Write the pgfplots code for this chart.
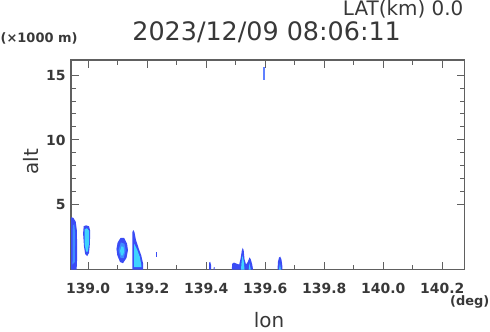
\documentclass[border=0pt]{standalone}
\usepackage{pgfplots}
\pgfplotsset{compat=1.18}
\usepackage{fontspec}
\setmainfont{DejaVu Sans}
\definecolor{txt}{HTML}{383838}
\definecolor{axc}{HTML}{606060}
\definecolor{rblue}{HTML}{3A4CF5}
\definecolor{rmid}{HTML}{3F8CFF}
\definecolor{rcyan}{HTML}{3FD4FF}
\definecolor{rlight}{HTML}{6080FF}
\begin{document}
\begin{tikzpicture}[x=1bp,y=1bp]
\useasboundingbox (0,0) rectangle (490,331);
\begin{axis}[
  at={(71bp,61.3bp)}, anchor=south west,
  scale only axis, width=393.7bp, height=209.7bp,
  xmin=138.942, xmax=140.276, ymin=0, ymax=16.16,
  xtick={139.0,139.2,139.4,139.6,139.8,140.0,140.2},
  minor x tick num=1,
  ytick={5,10,15}, minor y tick num=4,
  tick align=inside,
  major tick length=8bp, minor tick length=4.5bp,
  axis line style={draw=axc, line width=1.4bp},
  every tick/.style={draw=axc, line width=1bp},
  /pgf/number format/assume math mode=true,
  tick label style={font=\fontsize{14}{14}\bfseries\selectfont, text=txt},
  xticklabel style={/pgf/number format/.cd, fixed, fixed zerofill, precision=1, /tikz/.cd, yshift=-10.3bp},
  yticklabel style={/pgf/number format/.cd, fixed, precision=0, /tikz/.cd, xshift=-2bp},
  xlabel={lon},
  xlabel style={at={(axis description cs:0.503,-0.276)}, anchor=base, inner sep=0pt, font=\fontsize{20}{20}\selectfont, text=txt},
  ylabel={alt},
  ylabel style={at={(axis description cs:-0.1016,0.514)}, anchor=center, font=\fontsize{20}{20}\selectfont, text=txt},
  title={2023/12/09 08:06:11},
  title style={at={(axis description cs:0.497,1.0634)}, anchor=base, font=\fontsize{25.5}{25.5}\selectfont, text=txt},
]
% blob 1 (left edge)
\addplot[fill=rblue, draw=none] coordinates {(138.940,0) (138.940,4.05) (138.950,4.0) (138.958,3.7) (138.962,3.0) (138.963,1.0) (138.961,0)} --cycle;
\addplot[fill=rmid, draw=none] coordinates {(138.947,0.4) (138.948,3.4) (138.953,3.5) (138.956,2.8) (138.955,0.6)} --cycle;
% blob 2
\addplot[fill=rblue, draw=none] coordinates {(138.985,3.35) (138.993,3.42) (139.003,3.35) (139.007,3.0) (139.006,2.0) (139.003,1.3) (138.997,1.05) (138.990,1.2) (138.986,1.8) (138.983,2.8)} --cycle;
\addplot[fill=rcyan, draw=none] coordinates {(138.988,3.1) (138.996,3.2) (139.003,3.0) (139.003,2.0) (138.999,1.4) (138.993,1.4) (138.988,2.0)} --cycle;
% blob 3
\addplot[fill=rblue, draw=none] coordinates {(139.110,2.45) (139.122,2.45) (139.132,2.0) (139.135,1.5) (139.130,0.9) (139.118,0.5) (139.108,0.6) (139.099,1.1) (139.096,1.6) (139.100,2.1)} --cycle;
\addplot[fill=rmid, draw=none] coordinates {(139.111,2.1) (139.123,2.0) (139.127,1.5) (139.121,0.9) (139.110,0.9) (139.103,1.5)} --cycle;
\addplot[fill=rcyan, draw=none] coordinates {(139.113,1.8) (139.120,1.75) (139.122,1.4) (139.118,1.1) (139.112,1.1) (139.108,1.45)} --cycle;
% blob 4
\addplot[fill=rblue, draw=none] coordinates {(139.150,0) (139.150,2.9) (139.153,3.05) (139.157,2.9) (139.162,2.3) (139.172,1.6) (139.180,1.1) (139.186,0.5) (139.186,0)} --cycle;
\addplot[fill=rcyan, draw=none] coordinates {(139.156,0.2) (139.156,2.0) (139.165,1.6) (139.175,1.0) (139.180,0.4) (139.181,0.2)} --cycle;
% small dot
\addplot[fill=rblue, draw=none] coordinates {(139.229,1.0) (139.232,1.0) (139.232,1.35) (139.229,1.35)} --cycle;
% small marks near 139.41
\addplot[fill=rblue, draw=none] coordinates {(139.410,0) (139.410,0.55) (139.414,0.6) (139.417,0.3) (139.417,0)} --cycle;
\addplot[fill=rblue, draw=none] coordinates {(139.425,0) (139.426,0.2) (139.429,0.2) (139.429,0)} --cycle;
% cluster near 139.52
\addplot[fill=rblue, draw=none] coordinates {(139.487,0) (139.488,0.45) (139.494,0.55) (139.505,0.45) (139.512,0.4) (139.517,0.9) (139.521,1.5) (139.524,1.68) (139.527,1.5) (139.530,0.8) (139.535,0.4) (139.541,0.6) (139.547,0.95) (139.551,0.8) (139.556,0.4) (139.559,0)} --cycle;
\addplot[fill=rcyan, draw=none] coordinates {(139.518,0) (139.520,0.6) (139.523,1.1) (139.527,0.7) (139.530,0)} --cycle;
\addplot[fill=rcyan, draw=none] coordinates {(139.544,0) (139.547,0.5) (139.551,0)} --cycle;
% peak near 139.65
\addplot[fill=rblue, draw=none] coordinates {(139.642,0) (139.643,0.6) (139.647,0.95) (139.651,1.0) (139.655,0.8) (139.658,0.3) (139.658,0)} --cycle;
\addplot[fill=rcyan, draw=none] coordinates {(139.647,0) (139.650,0.5) (139.653,0)} --cycle;
% high mark
\addplot[fill=rlight, draw=none] coordinates {(139.592,14.6) (139.598,14.6) (139.598,15.6) (139.592,15.6)} --cycle;
\end{axis}
\node[anchor=base east, text=txt, font=\fontsize{20}{20}\selectfont, inner sep=0pt] at (463.5,315.3) {LAT(km) 0.0};
\node[anchor=base west, text=txt, font=\fontsize{13}{13}\bfseries\selectfont, inner sep=0pt] at (0.5,289) {(×1000 m)};
\node[anchor=base east, text=txt, font=\fontsize{13}{13}\bfseries\selectfont, inner sep=0pt] at (489.5,25.5) {(deg)};
\end{tikzpicture}
\end{document}
